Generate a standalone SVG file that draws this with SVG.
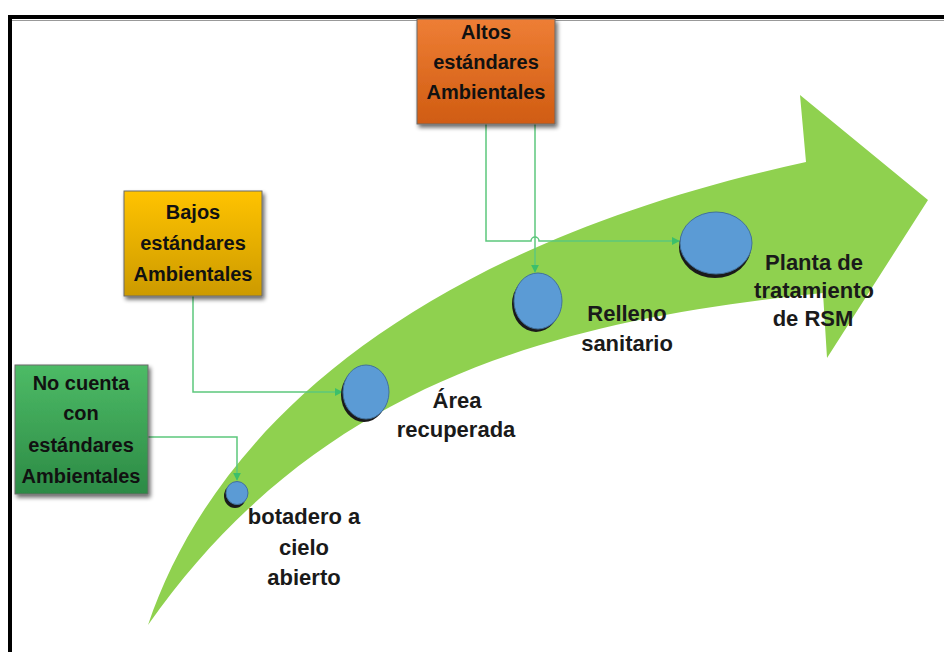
<svg xmlns="http://www.w3.org/2000/svg" width="944" height="652" viewBox="0 0 944 652">
  <defs>
    <linearGradient id="gOrange" x1="0" y1="0" x2="0" y2="1">
      <stop offset="0" stop-color="#ee7e35"/>
      <stop offset="1" stop-color="#d05c12"/>
    </linearGradient>
    <linearGradient id="gGold" x1="0" y1="0" x2="0" y2="1">
      <stop offset="0" stop-color="#ffc300"/>
      <stop offset="1" stop-color="#cc9a00"/>
    </linearGradient>
    <linearGradient id="gGreen" x1="0" y1="0" x2="0" y2="1">
      <stop offset="0" stop-color="#4dbb66"/>
      <stop offset="1" stop-color="#2c8a45"/>
    </linearGradient>
    <filter id="shadow" x="-20%" y="-20%" width="150%" height="150%">
      <feGaussianBlur in="SourceAlpha" stdDeviation="2"/>
      <feOffset dx="2" dy="3" result="b"/>
      <feComponentTransfer><feFuncA type="linear" slope="0.6"/></feComponentTransfer>
      <feMerge><feMergeNode/><feMergeNode in="SourceGraphic"/></feMerge>
    </filter>
    <marker id="arr" viewBox="0 0 10 10" refX="9" refY="5" markerWidth="8" markerHeight="8" markerUnits="userSpaceOnUse" orient="auto">
      <path d="M0,0 L10,5 L0,10 z" fill="#3cbf6a"/>
    </marker>
    <style>
      .box { stroke: #6b6b6b; stroke-width: 1; filter: url(#shadow); }
      .bt { font-family: "Liberation Sans", Arial, sans-serif; font-weight: bold; font-size: 20px; fill: #111; text-anchor: middle; }
      .lbl { font-family: "Liberation Sans", Arial, sans-serif; font-weight: bold; font-size: 22px; fill: #1a1a1a; text-anchor: middle; }
      .conn { fill: none; stroke: #5cc77c; stroke-width: 1.5; }
      .dot { fill: #5b9bd5; stroke: #41719c; stroke-width: 1; }
      .dotsh { fill: #1a1a1a; }
    </style>
  </defs>

  <rect x="0" y="0" width="944" height="652" fill="#ffffff"/>
  <!-- frame -->
  <rect x="10" y="17" width="960" height="700" fill="none" stroke="#000" stroke-width="4"/>
  <line x1="12" y1="20.5" x2="944" y2="20.5" stroke="#999" stroke-width="1"/>

  <!-- big curved arrow -->
  <path id="bigArrow" d="M148,625 C210,440 400,250 806,162 L800,95 L928,200 L827,358 L823,293 C560,320 320,380 148,625 Z" fill="#8fd14f"/>

  <!-- connectors -->
  <g id="connectors">
    <path class="conn" d="M148,437 H237 V480" marker-end="url(#arr)"/>
    <path class="conn" d="M193,296 V392 H342" marker-end="url(#arr)"/>
    <path class="conn" d="M486,124 V241 H531 A4,4 0 0 1 539,241 H679" marker-end="url(#arr)"/>
    <path class="conn" d="M535,124 V272" marker-end="url(#arr)"/>
  </g>

  <!-- boxes -->
  <g id="node-altos">
    <rect class="box" x="417" y="19" width="138" height="105" fill="url(#gOrange)"/>
    <text class="bt" x="486" y="39">Altos</text>
    <text class="bt" x="486" y="69">estándares</text>
    <text class="bt" x="486" y="99">Ambientales</text>
  </g>
  <g id="node-bajos">
    <rect class="box" x="124" y="191" width="138" height="105" fill="url(#gGold)"/>
    <text class="bt" x="193" y="219">Bajos</text>
    <text class="bt" x="193" y="250">estándares</text>
    <text class="bt" x="193" y="281">Ambientales</text>
  </g>
  <g id="node-nocuenta">
    <rect class="box" x="15" y="365" width="133" height="129" fill="url(#gGreen)"/>
    <text class="bt" x="81" y="390">No cuenta</text>
    <text class="bt" x="81" y="420">con</text>
    <text class="bt" x="81" y="452">estándares</text>
    <text class="bt" x="81" y="483">Ambientales</text>
  </g>

  <!-- stages -->
  <g id="node-botadero">
    <ellipse class="dotsh" cx="235" cy="496" rx="11" ry="12"/>
    <ellipse class="dot" cx="237" cy="493" rx="11" ry="11.5"/>
    <text class="lbl" x="304" y="524">botadero a</text>
    <text class="lbl" x="304" y="555">cielo</text>
    <text class="lbl" x="304" y="585">abierto</text>
  </g>
  <g id="node-area">
    <ellipse class="dotsh" cx="364" cy="395" rx="23" ry="27"/>
    <ellipse class="dot" cx="366" cy="392" rx="23" ry="27"/>
    <text class="lbl" x="457" y="408">Área</text>
    <text class="lbl" x="456" y="437">recuperada</text>
  </g>
  <g id="node-relleno">
    <ellipse class="dotsh" cx="536" cy="304" rx="24" ry="28"/>
    <ellipse class="dot" cx="538" cy="301" rx="24" ry="28"/>
    <text class="lbl" x="627" y="321">Relleno</text>
    <text class="lbl" x="627" y="351">sanitario</text>
  </g>
  <g id="node-planta">
    <ellipse class="dotsh" cx="715" cy="247" rx="36" ry="31"/>
    <ellipse class="dot" cx="716" cy="243" rx="36" ry="31"/>
    <text class="lbl" x="814" y="270">Planta de</text>
    <text class="lbl" x="814" y="298">tratamiento</text>
    <text class="lbl" x="813" y="326">de RSM</text>
  </g>
</svg>
